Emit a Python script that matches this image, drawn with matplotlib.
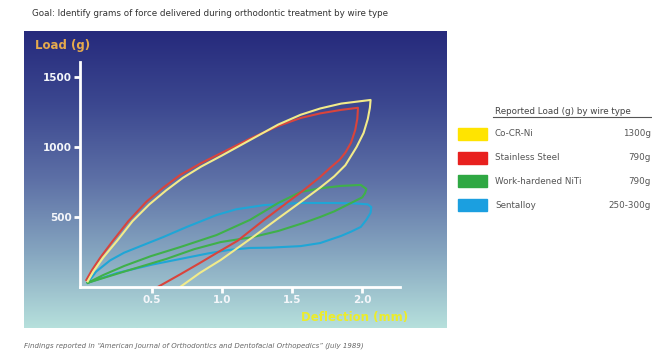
import numpy as np
import matplotlib
matplotlib.use("Agg")
import matplotlib.pyplot as plt
from matplotlib.colors import LinearSegmentedColormap
from matplotlib.patches import Rectangle

# Datos: deflexión (mm) y carga (g), carga y descarga de cada alambre
coc_x = [0.04, 0.08, 0.15, 0.25, 0.36, 0.48, 0.6, 0.72, 0.85, 1.0, 1.2, 1.4,
         1.56, 1.7, 1.85, 2.06,
         2.055, 2.04, 2.01, 1.96, 1.88, 1.8, 1.7, 1.58, 1.4, 1.22, 0.99, 0.84, 0.70]
coc_y = [40, 110, 210, 330, 470, 590, 690, 780, 860, 940, 1050, 1160,
         1230, 1275, 1310, 1336,
         1280, 1200, 1100, 1000, 870, 790, 710, 621, 490, 357, 193, 100, 0]

ss_x = [0.03, 0.07, 0.13, 0.22, 0.33, 0.46, 0.58, 0.70, 0.85, 1.0, 1.2, 1.4,
        1.56, 1.7, 1.85, 1.97,
        1.965, 1.95, 1.92, 1.88, 1.84, 1.77, 1.70, 1.58, 1.46, 1.3, 1.11, 0.99,
        0.84, 0.7, 0.54]
ss_y = [50, 120, 210, 330, 470, 610, 710, 800, 885, 960, 1060, 1150,
        1207, 1240, 1265, 1280,
        1200, 1120, 1030, 960, 910, 850, 786, 690, 600, 480, 330, 260,
        171, 90, 0]

niti_x = [0.04, 0.15, 0.3, 0.49, 0.7, 0.96, 1.2, 1.4, 1.56, 1.7, 1.85, 1.99,
          2.03, 2.02, 2.0, 1.9, 1.8, 1.7, 1.58, 1.4, 1.22, 0.99, 0.8, 0.6,
          0.3, 0.04]
niti_y = [30, 85, 150, 220, 285, 371, 480, 600, 679, 705, 722, 729,
          700, 670, 640, 590, 540, 500, 457, 400, 357, 321, 270, 200,
          110, 30]

sent_x = [0.04, 0.1, 0.2, 0.3, 0.45, 0.58, 0.75, 0.96, 1.1, 1.3, 1.56, 1.8,
          1.95, 2.04, 2.065, 2.06, 2.03, 1.99, 1.92, 1.85, 1.7, 1.56, 1.34,
          1.2, 1.05, 0.9, 0.7, 0.5, 0.25, 0.04]
sent_y = [30, 110, 190, 245, 305, 357, 430, 514, 555, 585, 600, 600,
          597, 590, 571, 530, 480, 429, 395, 365, 314, 292, 281,
          279, 265, 240, 200, 160, 100, 30]

wire_names = ["Co-CR-Ni", "Stainless Steel", "Work-hardened NiTi", "Sentalloy"]
wire_loads = ["1300g", "790g", "790g", "250-300g"]
line_colors = ["#f2eb8a", "#d9443c", "#3fb04a", "#1fa6d6"]
swatch_colors = ["#ffe400", "#e8201e", "#2fa843", "#1b9fe0"]

y_ticks = [500, 1000, 1500]
x_ticks = [0.5, 1.0, 1.5, 2.0]

W, H = 652, 353
fig = plt.figure(figsize=(W / 100, H / 100), dpi=100)
fig.patch.set_facecolor("white")

def px(x0, y0, x1, y1):
    return [x0 / W, 1 - y1 / H, (x1 - x0) / W, (y1 - y0) / H]

# Fondo degradado del panel
bg = fig.add_axes(px(24, 31, 447, 328))
cmap = LinearSegmentedColormap.from_list(
    "panel", ["#262a7c", "#3c4890", "#5d70a6", "#86a6c0", "#b6e0dc"])
grad = np.linspace(0, 1, 256).reshape(-1, 1)
bg.imshow(grad, aspect="auto", cmap=cmap, extent=[0, 1, 0, 1])
bg.set_axis_off()

ax = fig.add_axes(px(80, 62, 400, 287))
ax.patch.set_alpha(0)
ax.set_xlim(-0.015, 2.27)
ax.set_ylim(0, 1607)

series = [(coc_x, coc_y), (ss_x, ss_y), (niti_x, niti_y), (sent_x, sent_y)]
order = [3, 2, 1, 0]
for i in order:
    xs, ys = series[i]
    ax.plot(xs, ys, color=line_colors[i], lw=1.5, solid_joinstyle="round",
            clip_on=False)

for s in ["top", "right"]:
    ax.spines[s].set_visible(False)
for s in ["left", "bottom"]:
    ax.spines[s].set_color("white")
    ax.spines[s].set_linewidth(2)

ax.set_yticks(y_ticks)
ax.set_yticklabels([str(v) for v in y_ticks])
ax.set_xticks(x_ticks)
ax.set_xticklabels([f"{v:.1f}" for v in x_ticks])
ax.tick_params(colors="white", width=2, length=4, labelsize=7.5, pad=2)
for lab in ax.get_xticklabels() + ax.get_yticklabels():
    lab.set_fontweight("bold")
    lab.set_color("#f4f6fa")

fig.text(35 / W, 1 - 46 / H, "Load (g)", color="#e6aa4c", fontsize=8.5,
         fontweight="bold", va="center", ha="left")
fig.text(408 / W, 1 - 318 / H, "Deflection (mm)", color="#ecec2a",
         fontsize=8.5, fontweight="bold", va="center", ha="right")

fig.text(32 / W, 1 - 14 / H,
         "Goal: Identify grams of force delivered during orthodontic treatment by wire type",
         color="#333333", fontsize=6.3, va="center", ha="left")

fig.text(24 / W, 1 - 346 / H,
         "Findings reported in \u201cAmerican Journal of Orthodontics and Dentofacial Orthopedics\u201d (July 1989)",
         color="#666666", fontsize=5.0, va="center", ha="left", style="italic")

# Leyenda
fig.text(495 / W, 1 - 111 / H, "Reported Load (g) by wire type",
         color="#444444", fontsize=6.3, va="center", ha="left")
fig.add_artist(plt.Line2D([493 / W, 652 / W], [1 - 117 / H, 1 - 117 / H],
                          color="#555555", lw=0.8))
for k, (name, load) in enumerate(zip(wire_names, wire_loads)):
    yc = 134 + k * 23.7
    fig.add_artist(Rectangle((458 / W, 1 - (yc + 6) / H), 29 / W, 12 / H,
                             color=swatch_colors[k], transform=fig.transFigure))
    fig.text(495 / W, 1 - yc / H, name, color="#555555", fontsize=6.3,
             va="center", ha="left")
    fig.text(651 / W, 1 - yc / H, load, color="#555555", fontsize=6.3,
             va="center", ha="right")

fig.savefig("out.png", dpi=100)
